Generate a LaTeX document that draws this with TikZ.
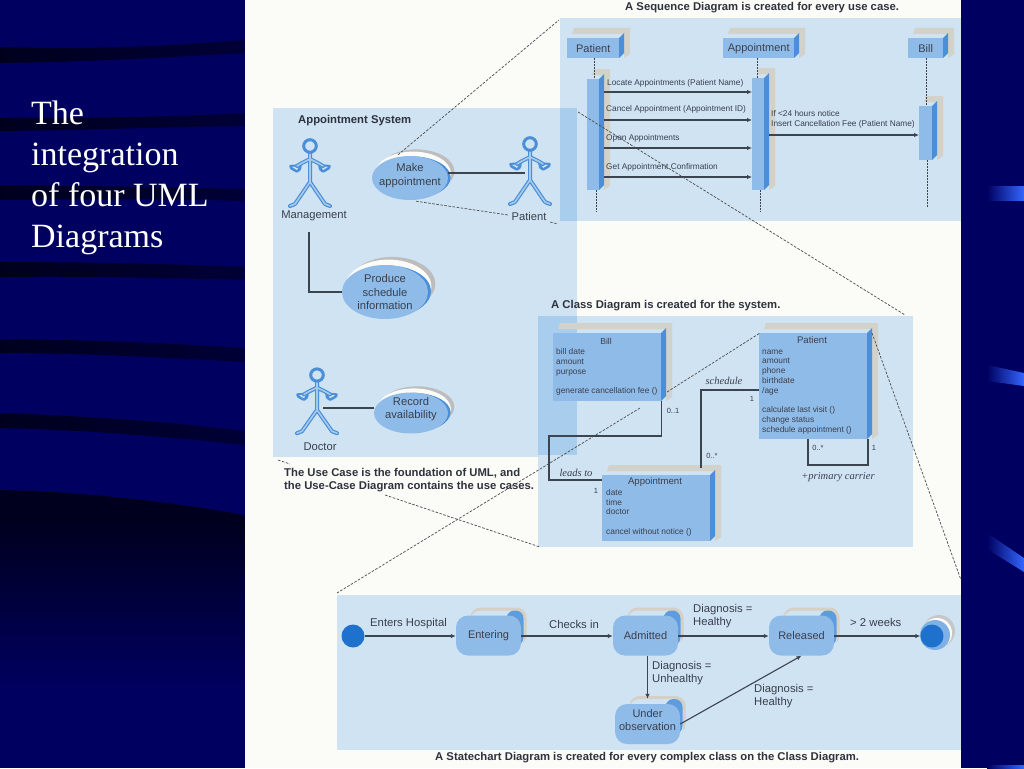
\documentclass[tikz,border=0pt]{standalone}
\usepackage{fontspec}
\setmainfont{Liberation Sans}
\newfontfamily\serifface{Liberation Serif}
\usetikzlibrary{arrows.meta,calc,shapes.geometric}
\definecolor{navy}{HTML}{000060}
\definecolor{bandl}{HTML}{00001E}
\definecolor{bandr}{HTML}{000036}
\definecolor{paper}{HTML}{FBFBF8}
\definecolor{panel}{HTML}{CFE3F3}
\definecolor{overlap}{HTML}{A9CDEC}
\definecolor{front}{HTML}{8FBBE8}
\definecolor{sideface}{HTML}{4A8FD8}
\definecolor{softside}{HTML}{5D9CDE}
\definecolor{greyface}{HTML}{D2D2CA}
\definecolor{beige}{HTML}{D6CFC4}
\definecolor{ink}{HTML}{3A3F4C}
\definecolor{wire}{HTML}{3C4450}
\definecolor{bar}{HTML}{3366FF}
\definecolor{dotblue}{HTML}{1E72CE}
\tikzset{
  x=1pt,y=-1pt,
  lbl/.style={inner sep=0pt,text=ink,font=\fontsize{8.3}{9.8}\selectfont},
  lblw/.style={lbl,anchor=west},
  classlbl/.style={lbl,anchor=north west,align=left,font=\fontsize{8.35}{9.8}\selectfont},
  actorlbl/.style={lbl,font=\fontsize{11.2}{12}\selectfont},
  mult/.style={lbl,font=\fontsize{7.5}{9}\selectfont},
  statelbl/.style={lbl,anchor=west,align=left,font=\fontsize{11.3}{13.4}\selectfont},
  title/.style={inner sep=0pt,anchor=west,text=ink!80!black,font=\fontsize{11.3}{12.2}\selectfont\bfseries},
  ital/.style={inner sep=0pt,text=ink,font=\serifface\itshape\fontsize{10.5}{12}\selectfont},
  wirel/.style={draw=wire,line width=1.1pt},
  msg/.style={wirel,-{Latex[length=5pt,width=4.5pt]}},
  life/.style={draw=wire,line width=1pt,dash pattern=on 1.5pt off 1.5pt},
  cross/.style={draw=black!70,line width=.7pt,dash pattern=on 2.6pt off 1.5pt},
  solidbox/.style={fill=front,draw=none,inner sep=0pt},
  statebox/.style={solidbox,rounded corners=12pt,minimum width=65pt,minimum height=40pt},
  statetext/.style={inner sep=0pt,align=center,text=ink,font=\fontsize{11}{13.5}\selectfont},
  usecase/.style={ellipse,fill=front,draw=none,inner sep=0pt},
  uctext/.style={inner sep=0pt,align=center,text=ink,font=\fontsize{11.2}{13.6}\selectfont},
  actorline/.style={draw=sideface,line width=4pt,line join=round,line cap=round},
  actorcore/.style={draw=panel!70!sideface,line width=1.6pt,line join=round,line cap=round},
  bandfill/.style={left color=bandl,right color=bandr},
  barfade/.style={left color=navy,middle color=bar,right color=bar},
}
% front face node with side and top faces: name, x1,y1,x2,y2, depth, text
\newcommand{\cube}[7]{%
  \fill[greyface] (#2+#6+2,#3-10) -- (#4+#6+6,#3-10) -- (#4+#6+6,#5-4) -- (#4+#6,#5) -- (#4+#6,#3-4) -- (#2+#6,#3-4) -- cycle;
  \node[solidbox,minimum width=#4-#2,minimum height=#5-#3,anchor=north west,align=center,text=ink,font=\fontsize{11}{12}\selectfont] (#1) at (#2,#3) {#7};
  \fill[sideface] (#4,#3) -- (#4+#6,#3-#6) -- (#4+#6,#5-#6) -- (#4,#5) -- cycle;
}
% use-case ellipse: name, cx, cy, rx, ry, text, text dy
\newcommand{\ucase}[7]{%
  \fill[black!26] (#2+#4*.17,#3-#5*.3) ellipse [x radius=#4,y radius=#5];
  \fill[paper] (#2+#4*.08,#3-#5*.2) ellipse [x radius=#4,y radius=#5];
  \fill[sideface] (#2+#4*.07,#3-#5*.03) ellipse [x radius=#4,y radius=#5*.95];
  \node[usecase,minimum width=2*#4,minimum height=2*#5] (#1) at (#2,#3) {};
  \node[uctext] (#1t) at (#2,#3+#7) {#6};
}
% rounded state: name, cx, cy, text, text dy
\newcommand{\stbox}[5]{%
  \fill[beige,rounded corners=10pt] (#2-18,#3-28) rectangle (#2+38,#3+10);
  \fill[panel,rounded corners=10pt] (#2-18,#3-25) rectangle (#2+35.5,#3+14);
  \fill[softside,rounded corners=8pt] (#2+18,#3-25) rectangle (#2+35,#3+10);
  \node[statebox] (#1) at (#2,#3) {};
  \node[statetext] (#1t) at (#2,#3+#5) {#4};
}
% actor figure around head centre
\newcommand{\actorfig}[3]{%
  \begin{scope}[shift={(#1,#2)},yscale=#3]
    \foreach \sg in {-1,1}{
      \fill[sideface,rounded corners=1pt] (\sg*8,18) -- (\sg*21,19) -- (\sg*20,23) -- (\sg*13,27) -- (\sg*9,24) -- cycle;
      \fill[panel] (\sg*11,20) -- (\sg*18,21) -- (\sg*13,24) -- cycle;
    }
    \foreach \st in {actorline,actorcore}{
      \draw[\st] (0,7) -- (0,36) (0,36) -- (-15,58) -- (-20,60)
                 (0,36) -- (15,58) -- (20,60)
                 (0,13) -- (-8,17) -- (-13,20) (0,13) -- (8,17) -- (13,20);
    }
    \draw[sideface,line width=3pt,fill=panel] (0,0) circle [radius=6.3];
  \end{scope}
}
\begin{document}
\begin{tikzpicture}
\useasboundingbox (0,0) rectangle (1024,768);
% ---- slide background
\fill[navy] (0,0) rectangle (1024,768);
\shade[bandfill] (0,47) .. controls (90,50) and (170,46) .. (245,40) -- (245,53) .. controls (170,57) and (90,62) .. (0,63) -- cycle;
\shade[bandfill] (0,118) .. controls (90,118) and (170,117) .. (245,113) -- (245,126) .. controls (170,127) and (90,130) .. (0,131) -- cycle;
\shade[bandfill] (0,185) .. controls (90,186) and (170,187) .. (245,189) -- (245,201) .. controls (170,199) and (90,199) .. (0,200) -- cycle;
\shade[bandfill] (0,262) .. controls (90,262) and (170,264) .. (245,267) -- (245,280) .. controls (170,278) and (90,276) .. (0,277) -- cycle;
\shade[bandfill] (0,339) .. controls (90,340) and (170,343) .. (245,348) -- (245,362) .. controls (170,358) and (90,353) .. (0,353) -- cycle;
\shade[bandfill] (0,413) .. controls (90,416) and (170,422) .. (245,431) -- (245,445) .. controls (170,437) and (90,430) .. (0,428) -- cycle;
\begin{scope}
  \clip (0,490) .. controls (90,492) and (170,502) .. (245,515) -- (245,700) -- (0,700) -- cycle;
  \shade[top color=bandl,bottom color=navy] (0,520) rectangle (245,690);
  \fill[bandl] (0,488) rectangle (245,521);
\end{scope}
\node[inner sep=0pt,anchor=north west,align=left,text=white,font=\serifface\fontsize{34}{41}\selectfont] (slidetitle) at (31,101) {The\\integration\\of four UML\\Diagrams};
\shade[barfade] (987,186) rectangle (1024,200);
\shade[barfade] (987,365) -- (1024,373) -- (1024,386) -- (987,381) -- cycle;
\shade[barfade] (987,533) -- (1024,558) -- (1024,572) -- (987,549) -- cycle;
\shade[barfade] (987,765) rectangle (1024,768);
% ---- page
\fill[paper] (245,0) rectangle (961,768);
\fill[panel] (273,108) rectangle (577,457);
\fill[panel] (560,18) rectangle (961,221);
\fill[panel] (538,316) rectangle (913,547);
\fill[panel] (337,595) rectangle (961,750);
\fill[overlap] (560,108) rectangle (577,221);
\fill[overlap] (538,316) rectangle (577,455);
% ---- titles
\node[title] (seqtitle) at (625,8) {A Sequence Diagram is created for every use case.};
\node[title] (classtitle) at (551,305.5) {A Class Diagram is created for the system.};
\node[title] (apptitle) at (298,120.5) {Appointment System};
\node[title,align=left] (uctitle) at (284,480) {The Use Case is the foundation of UML, and\\the Use-Case Diagram contains the use cases.};
\node[title] (sttitle) at (435,758) {A Statechart Diagram is created for every complex class on the Class Diagram.};
% ---- sequence diagram
\cube{sp}{567}{38}{619}{58}{5}{Patient}
\cube{sa}{723}{38}{794}{58}{5}{Appointment}
\cube{sb}{908}{38}{943}{58}{5}{Bill}
\cube{pa}{587}{79}{599}{190}{5}{}
\cube{aa}{752}{78}{764}{190}{5}{}
\cube{ba}{919}{106}{932}{160}{5}{}
\coordinate (pl) at (596,212);
\coordinate (al) at (760,212);
\coordinate (bl) at (927,208);
\draw[life] (sp.south) ++(1,0) -- ++(0,21);
\draw[life] (sa.south) ++(-1,0) -- ++(0,20);
\draw[life] (sb.south) ++(1,0) -- ++(0,48);
\draw[life] (pl |- pa.south) -- (pl);
\draw[life] (al |- aa.south) -- (al);
\draw[life] (bl |- ba.south) -- (bl);
\draw[msg] ([xshift=5pt]pa.east |- 0,92) -- (aa.west |- 0,92);
\draw[msg] ([xshift=5pt]pa.east |- 0,120) -- (aa.west |- 0,120);
\draw[msg] ([xshift=5pt]pa.east |- 0,148) -- (aa.west |- 0,148);
\draw[msg] ([xshift=5pt]pa.east |- 0,177) -- (aa.west |- 0,177);
\draw[msg] ([xshift=5pt]aa.east |- 0,135) -- (ba.west |- 0,135);
\node[lblw] (m1) at (607,83) {Locate Appointments (Patient Name)};
\node[lblw] (m2) at (606,109) {Cancel Appointment (Appointment ID)};
\node[lblw] (m3) at (606,138) {Open Appointments};
\node[lblw] (m4) at (606,167) {Get Appointment Confirmation};
\node[lblw,align=left] (m5) at (771,119.5) {If <24 hours notice\\Insert Cancellation Fee (Patient Name)};
% ---- use case diagram
\actorfig{310}{146}{1}
\actorfig{530}{144}{1}
\actorfig{317}{375}{.97}
\node[actorlbl] (mgmt) at (314,216) {Management};
\node[actorlbl] (patient) at (529,216) {Patient};
\node[actorlbl] (doctor) at (320,447) {Doctor};
\ucase{make}{410}{178}{38}{22}{Make\\appointment}{-2.5}
\ucase{prod}{385}{292}{43}{27}{Produce\\schedule\\information}{0}
\ucase{rec}{411}{413}{37}{20.5}{Record\\availability}{-4}
\coordinate (patarm) at (525,173);
\coordinate (docbody) at (323,408);
\draw[wirel] (make.east |- patarm) -- (patarm);
\draw[wirel] (docbody) -- (rec.west |- docbody);
\draw[wirel] (309,232) |- (prod.west);
% ---- class diagram
\cube{cb}{553}{333}{661}{401}{5}{}
\cube{cp}{759}{333}{867}{439}{5}{}
\cube{ca}{602}{475}{710}{541}{5}{}
\node[lbl,font=\fontsize{8.6}{10}\selectfont] (cbt) at (606,341) {Bill};
\node[lbl,font=\fontsize{9.6}{10}\selectfont] (cpt) at (812,340.5) {Patient};
\node[lbl,font=\fontsize{9.6}{10}\selectfont] (cat) at (655,482) {Appointment};
\node[classlbl] (cba) at (556,348.5) {bill date\\amount\\purpose\\[9.8pt]generate cancellation fee ()};
\node[classlbl] (cpa) at (762,349.5) {name\\amount\\phone\\birthdate\\/age\\[9.8pt]calculate last visit ()\\change status\\schedule appointment ()};
\node[classlbl] (caa) at (606,489) {date\\time\\doctor\\[9.8pt]cancel without notice ()};
\draw[wirel] (cb.south east) |- (549,436) |- (ca.west |- 0,480);
\draw[wirel] (701,468) |- (cp.west |- 0,390);
\draw[wirel] (808,439) |- (868,465) -- (868,439);
\node[ital] (leads) at (576,473) {leads to};
\node[ital] (sched) at (724,381) {schedule};
\node[ital] (prim) at (838,477) {+primary carrier};
\node[mult] (n1) at (673,411) {0..1};
\node[mult] (n2) at (752,399) {1};
\node[mult] (n3) at (712,456) {0..*};
\node[mult] (n4) at (818,448) {0..*};
\node[mult] (n5) at (874,448) {1};
\node[mult] (n6) at (596,491) {1};
% ---- statechart
\fill[black!22] (939,631) circle [radius=16];
\fill[paper] (937,633) circle [radius=15];
\fill[sideface!70] (935,635) circle [radius=15];
\node[circle,fill=dotblue,minimum size=23pt,inner sep=0pt] (endst) at (932,636) {};
\node[circle,fill=dotblue,minimum size=23pt,inner sep=0pt] (startst) at (353,636) {};
\stbox{ent}{488.5}{635.5}{Entering}{0}
\stbox{adm}{645.5}{635.5}{Admitted}{0}
\stbox{rel}{801.5}{635.5}{Released}{0}
\stbox{und}{647.5}{724}{Under\\observation}{-4}
\draw[msg] (startst) -- (ent.west |- startst);
\draw[msg] (ent.east |- startst) -- (adm.west |- startst);
\draw[msg] (adm.east |- startst) -- (rel.west |- startst);
\draw[msg] (rel.east |- startst) -- (endst);
\draw[msg,shorten >=5pt] (und.north |- adm.south) -- (und.north);
\draw[msg] (und.east) -- (rel.south);
\node[statelbl] (l1) at (370,624) {Enters Hospital};
\node[statelbl] (l2) at (549,624) {Checks in};
\node[statelbl] (l3) at (693,616) {Diagnosis =\\Healthy};
\node[statelbl] (l4) at (850,622) {> 2 weeks};
\node[statelbl] (l5) at (652,673) {Diagnosis =\\Unhealthy};
\node[statelbl] (l6) at (754,696) {Diagnosis =\\Healthy};
% ---- dashed links between the diagrams
\coordinate (d1) at (559,20);
\coordinate (d2) at (508,215);
\coordinate (d3) at (550,222);
\coordinate (d4) at (558,224);
\coordinate (d5) at (578,112);
\coordinate (d6) at (905,315);
\coordinate (d7) at (667,392);
\coordinate (d8) at (760,333);
\coordinate (d9) at (640,408);
\coordinate (d10) at (337,593);
\coordinate (d11) at (278,460);
\coordinate (d12) at (290,464);
\coordinate (d13) at (385,495);
\coordinate (d14) at (540,547);
\coordinate (d15) at (872,333);
\coordinate (d16) at (961,580);
\draw[cross] (make.north) ++(-12,-1) -- (d1);
\draw[cross] (make.south) ++(6,1) -- (d2);
\draw[cross] (d3) -- (d4);
\draw[cross] (d5) -- (d6);
\draw[cross] (d7) -- (d8);
\draw[cross] (d9) -- (d10);
\draw[cross] (d11) -- (d12);
\draw[cross] (d13) -- (d14);
\draw[cross] (d15) -- (d16);
\end{tikzpicture}
\end{document}
